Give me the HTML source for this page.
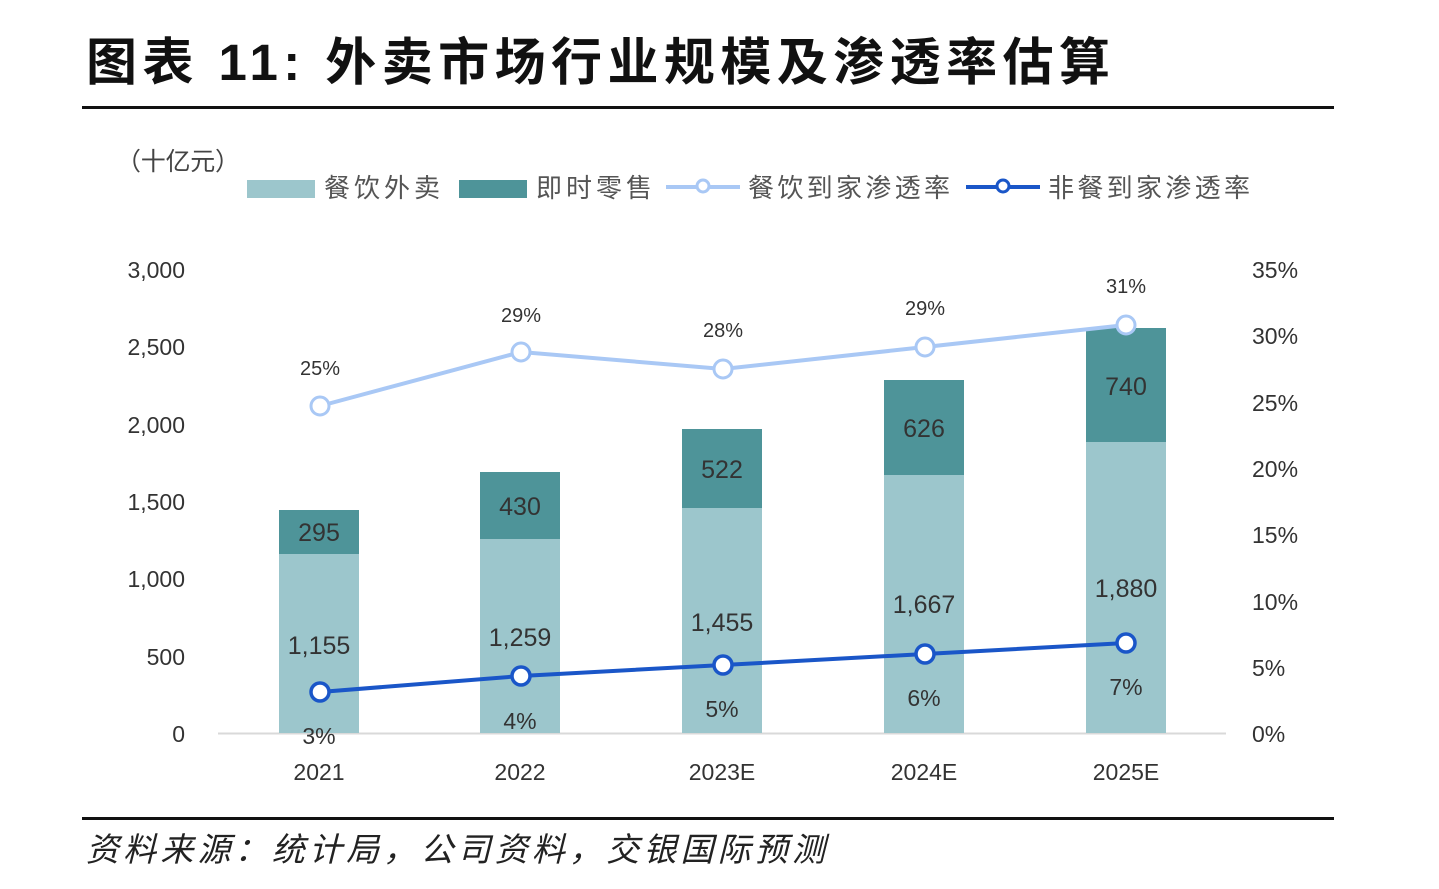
<!DOCTYPE html>
<html><head><meta charset="utf-8"><style>
body{margin:0;background:#fff;width:1439px;height:889px;overflow:hidden}
svg{display:block}
text{font-family:"Liberation Sans","Noto Sans CJK SC",sans-serif;fill:#333}
</style></head><body>
<svg width="1439" height="889" viewBox="0 0 1439 889">
<text x="86" y="80" font-size="51" font-weight="bold" textLength="1024" lengthAdjust="spacing" style="fill:#111">图表 11: 外卖市场行业规模及渗透率估算</text>
<rect x="82" y="106" width="1252" height="3" fill="#111"/>
<text x="116" y="170" font-size="25" textLength="124" lengthAdjust="spacing" style="fill:#444">（十亿元）</text>
<rect x="247" y="180" width="68" height="18" fill="#9cc6cc"/>
<text x="324" y="197" font-size="26" textLength="116" lengthAdjust="spacing" style="fill:#555">餐饮外卖</text>
<rect x="459" y="180" width="68" height="18" fill="#4e9499"/>
<text x="536" y="197" font-size="26" textLength="116" lengthAdjust="spacing" style="fill:#555">即时零售</text>
<line x1="666" y1="187" x2="740" y2="187" stroke="#a9c8f5" stroke-width="4"/>
<circle cx="703" cy="186" r="6" fill="#fff" stroke="#a9c8f5" stroke-width="3"/>
<text x="748" y="197" font-size="26" textLength="202" lengthAdjust="spacing" style="fill:#555">餐饮到家渗透率</text>
<line x1="966" y1="187" x2="1040" y2="187" stroke="#1a56c8" stroke-width="4"/>
<circle cx="1003" cy="186" r="6" fill="#fff" stroke="#1a56c8" stroke-width="3"/>
<text x="1048" y="197" font-size="26" textLength="202" lengthAdjust="spacing" style="fill:#555">非餐到家渗透率</text>
<g font-size="23" text-anchor="end">
<text x="185" y="278">3,000</text><text x="185" y="355">2,500</text><text x="185" y="433">2,000</text>
<text x="185" y="510">1,500</text><text x="185" y="587">1,000</text><text x="185" y="665">500</text><text x="185" y="742">0</text>
</g>
<g font-size="23">
<text x="1252" y="278">35%</text><text x="1252" y="344">30%</text><text x="1252" y="411">25%</text>
<text x="1252" y="477">20%</text><text x="1252" y="543">15%</text><text x="1252" y="610">10%</text>
<text x="1252" y="676">5%</text><text x="1252" y="742">0%</text>
</g>
<line x1="218" y1="733.5" x2="1226" y2="733.5" stroke="#d9d9d9" stroke-width="2"/>
<g fill="#9cc6cc">
<rect x="279" y="554" width="80" height="179"/><rect x="480" y="539" width="80" height="194"/>
<rect x="682" y="508" width="80" height="225"/><rect x="884" y="475" width="80" height="258"/>
<rect x="1086" y="442" width="80" height="291"/>
</g>
<g fill="#4e9499">
<rect x="279" y="510" width="80" height="44"/><rect x="480" y="472" width="80" height="67"/>
<rect x="682" y="429" width="80" height="79"/><rect x="884" y="380" width="80" height="95"/>
<rect x="1086" y="328" width="80" height="114"/>
</g>
<g font-size="25" text-anchor="middle" style="fill:#333">
<text x="319" y="541">295</text><text x="520" y="515">430</text><text x="722" y="478">522</text>
<text x="924" y="437">626</text><text x="1126" y="395">740</text>
<text x="319" y="654">1,155</text><text x="520" y="646">1,259</text><text x="722" y="631">1,455</text>
<text x="924" y="613">1,667</text><text x="1126" y="597">1,880</text>
</g>
<polyline points="320,406 521,352 723,369 925,347 1126,325" fill="none" stroke="#a9c8f5" stroke-width="4"/>
<g fill="#fff" stroke="#a9c8f5" stroke-width="3">
<circle cx="320" cy="406" r="9"/><circle cx="521" cy="352" r="9"/><circle cx="723" cy="369" r="9"/><circle cx="925" cy="347" r="9"/><circle cx="1126" cy="325" r="9"/>
</g>
<g font-size="20" text-anchor="middle">
<text x="320" y="375">25%</text><text x="521" y="322">29%</text><text x="723" y="337">28%</text><text x="925" y="315">29%</text><text x="1126" y="293">31%</text>
</g>
<polyline points="320,692 521,676 723,665 925,654 1126,643" fill="none" stroke="#1a56c8" stroke-width="4"/>
<g fill="#fff" stroke="#1a56c8" stroke-width="3.5">
<circle cx="320" cy="692" r="9"/><circle cx="521" cy="676" r="9"/><circle cx="723" cy="665" r="9"/><circle cx="925" cy="654" r="9"/><circle cx="1126" cy="643" r="9"/>
</g>
<g font-size="23" text-anchor="middle">
<text x="319" y="744">3%</text><text x="520" y="729">4%</text><text x="722" y="717">5%</text><text x="924" y="706">6%</text><text x="1126" y="695">7%</text>
<text x="319" y="780">2021</text><text x="520" y="780">2022</text><text x="722" y="780">2023E</text><text x="924" y="780">2024E</text><text x="1126" y="780">2025E</text>
</g>
<rect x="82" y="817" width="1252" height="3" fill="#111"/>
<text x="86" y="861" font-size="33" font-style="italic" textLength="739" lengthAdjust="spacing" style="fill:#222">资料来源：统计局，公司资料，交银国际预测</text>
</svg>
</body></html>
